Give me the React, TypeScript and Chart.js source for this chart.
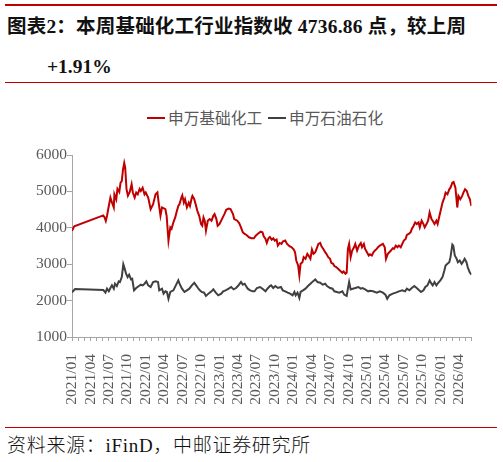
import React, { useEffect, useRef } from "react";
import { Chart, registerables } from "chart.js";

Chart.register(...registerables);

// x = months since 2021/01
const chemMonths = [
  0, 0.37, 5.09, 5.3, 5.5, 5.7, 5.99, 6.25, 6.5, 6.8, 6.9, 7.2, 7.4, 7.7, 7.9, 8.1, 8.3, 8.5, 8.66, 8.87,
  9.1, 9.4, 9.7, 9.9, 10.2, 10.45, 10.7, 11.0, 11.2, 11.5, 11.8, 12.0, 12.4, 12.8, 13.2, 13.6, 13.9, 14.1,
  14.4, 14.65, 15.2, 15.4, 15.7, 16.0, 16.2, 16.5, 16.8, 17.0, 17.3, 17.5, 17.8, 17.95, 18.2, 18.4, 18.7,
  19.0, 19.2, 19.5, 19.6, 19.9, 20.2, 20.4, 20.7, 21.0, 21.2, 21.4, 21.6, 21.8, 22.1, 22.4, 22.7, 23.0,
  23.2, 23.5, 23.7, 24.0, 24.4, 24.8, 25.1, 25.5, 25.8, 26.2, 26.4, 26.9, 27.2, 27.5, 27.8, 28.1, 28.4,
  28.8, 29.2, 29.6, 29.9, 30.2, 30.7, 31.0, 31.2, 31.5, 31.7, 32.0, 32.2, 32.5, 32.75, 33.0, 33.3, 33.5,
  33.8, 34.1, 34.3, 34.7, 35.0, 35.4, 35.75, 36.1, 36.3, 36.5, 36.8, 37.0, 37.2, 37.5, 37.7, 38.0, 38.3,
  38.5, 38.8, 39.05, 39.3, 39.6, 39.8, 40.1, 40.4, 40.6, 40.9, 41.2, 41.4, 41.7, 42.0, 42.2, 42.5, 42.7,
  43.0, 43.3, 43.6, 44.0, 44.2, 44.5, 44.7, 44.9, 45.1, 45.35, 45.6, 45.9, 46.1, 46.4, 46.7, 47.0, 47.2,
  47.5, 47.7, 48.0, 48.3, 48.5, 48.8, 49.05, 49.3, 49.6, 49.8, 50.1, 50.3, 50.6, 50.9, 51.1, 51.4, 51.65,
  51.9, 52.2, 52.4, 52.7, 52.96, 53.2, 53.5, 53.75, 54.0, 54.3, 54.5, 54.8, 55.1, 55.3, 55.6, 55.85, 56.1,
  56.4, 56.6, 56.9, 57.2, 57.4, 57.7, 57.95, 58.2, 58.5, 58.7, 59.0, 59.3, 59.5, 59.8, 60.05, 60.3, 60.6,
  60.8, 61.1, 61.4, 61.6, 61.9, 62.1, 62.4, 62.7, 62.9, 63.2, 63.5, 63.7, 63.97, 64.25, 64.5, 64.76, 65.0,
];
const chemValues = [
  3920, 4040, 4340, 4285, 4190, 4330, 4600, 4830, 4700, 4560, 4920, 4780, 5070, 4985, 5240, 5280, 5600, 5780, 5650, 5060,
  4880, 4985, 5195, 4970, 4830, 4970, 4920, 5070, 5010, 5100, 4920, 4970, 4830, 4510, 4650, 4920, 4970, 4700,
  4330, 4560, 4510, 4330, 3650, 4010, 3970, 4150, 4285, 4420, 4600, 4650, 4830, 4890, 4690, 4785, 4560,
  4690, 4600, 4830, 4876, 4785, 4600, 4466, 4330, 4103, 4057, 4285, 4194, 3920, 4194, 4239, 4194, 4330,
  4376, 4239, 4057, 4103, 4239, 4376, 4494, 4530, 4512, 4376, 4239, 4194, 4130, 4011, 3875, 3830, 3803,
  3739, 3712, 3712, 3784, 3830, 3894, 3875, 3766, 3693, 3584, 3720, 3750, 3675, 3712, 3648, 3675, 3511,
  3584, 3557, 3620, 3648, 3557, 3493, 3466, 3402, 3329, 3102, 2966, 2693, 3011, 3056, 3193, 3147, 3284,
  3238, 3147, 3402, 3284, 3329, 3420, 3557, 3584, 3493, 3420, 3329, 3284, 3193, 3147, 3038, 3011, 2947,
  2920, 2875, 2829, 2766, 2802, 2738, 2766, 3420, 3557, 3193, 3375, 3466, 3557, 3375, 3511, 3584, 3466,
  3557, 3420, 3329, 3238, 3270, 3238, 3329, 3375, 3420, 3466, 3511, 3530, 3557, 3466, 3147, 3284, 3329,
  3375, 3439, 3420, 3511, 3466, 3511, 3466, 3557, 3648, 3693, 3803, 3830, 3875, 3966, 4057, 4148, 4103,
  4148, 4011, 4194, 4103, 4011, 4103, 4194, 4421, 4239, 4194, 4103, 4194, 4103, 4330, 4512, 4694, 4830,
  4967, 4921, 5058, 5103, 5240, 5258, 5103, 4557, 4876, 4785, 4876, 4967, 5058, 5012, 4876, 4785, 4600,
];

const oilMonths = [
  0, 0.5, 5.1, 5.45, 5.7, 6.0, 6.25, 6.5, 6.8, 7.0, 7.3, 7.6, 7.8, 8.1, 8.35, 8.5, 8.8, 9.05, 9.3, 9.6,
  9.8, 10.1, 10.45, 10.9, 11.2, 11.5, 11.8, 12.1, 12.4, 12.8, 13.2, 13.6, 14.0, 14.2, 14.65, 14.9, 15.2,
  15.45, 15.7, 16.0, 16.5, 16.9, 17.3, 17.5, 17.9, 18.3, 18.7, 19.1, 19.5, 19.9, 20.2, 20.5, 20.8, 21.1,
  21.5, 21.8, 22.2, 22.7, 23.0, 23.4, 23.8, 24.3, 24.6, 25.0, 25.5, 25.9, 26.3, 26.7, 27.0, 27.5, 27.8,
  28.1, 28.6, 29.0, 29.4, 29.7, 30.1, 30.6, 31.0, 31.5, 31.8, 32.2, 32.4, 32.75, 33.1, 33.5, 34.0, 34.3,
  34.7, 35.1, 35.5, 35.9, 36.2, 36.4, 36.7, 37.0, 37.2, 37.6, 38.0, 38.4, 38.8, 39.2, 39.6, 39.95, 40.4,
  40.8, 41.2, 41.5, 42.0, 42.4, 42.7, 43.1, 43.5, 44.0, 44.3, 44.7, 44.9, 45.1, 45.35, 45.7, 46.1, 46.6,
  47.0, 47.3, 47.7, 48.2, 48.5, 49.0, 49.6, 50.1, 50.6, 51.0, 51.3, 51.65, 52.2, 52.7, 53.2, 53.75, 54.2,
  54.5, 54.9, 55.3, 55.7, 56.1, 56.5, 56.8, 57.2, 57.5, 57.85, 58.2, 58.5, 58.7, 59.0, 59.3, 59.5, 59.95,
  60.3, 60.6, 60.8, 61.1, 61.4, 61.6, 61.9, 62.05, 62.3, 62.6, 62.8, 63.1, 63.4, 63.6, 63.9, 64.2, 64.4,
  64.7, 65.0,
];
const oilValues = [
  2230, 2320, 2290, 2218, 2327, 2255, 2346, 2418, 2327, 2464, 2400, 2528, 2510, 2646, 3000, 2919, 2737, 2646, 2710, 2582,
  2600, 2282, 2346, 2400, 2437, 2418, 2464, 2528, 2418, 2373, 2510, 2528, 2510, 2282, 2327, 2191, 2255,
  2237, 2050, 2237, 2282, 2418, 2555, 2464, 2327, 2237, 2282, 2327, 2418, 2491, 2418, 2346, 2282, 2237,
  2218, 2127, 2191, 2255, 2309, 2218, 2145, 2191, 2255, 2282, 2327, 2373, 2309, 2346, 2400, 2510, 2437,
  2464, 2327, 2282, 2255, 2255, 2346, 2373, 2327, 2255, 2327, 2400, 2418, 2346, 2400, 2346, 2373, 2282,
  2255, 2218, 2191, 2145, 2237, 2145, 2218, 2073, 2237, 2282, 2327, 2400, 2464, 2528, 2582, 2510, 2491,
  2437, 2464, 2400, 2346, 2327, 2255, 2237, 2218, 2255, 2164, 2127, 2327, 2510, 2309, 2327, 2346, 2373,
  2327, 2346, 2309, 2255, 2270, 2255, 2218, 2255, 2218, 2164, 2050, 2145, 2191, 2218, 2255, 2282, 2255,
  2327, 2282, 2346, 2400, 2346, 2282, 2237, 2282, 2373, 2418, 2555, 2464, 2418, 2510, 2418, 2464, 2555,
  2646, 2828, 2966, 3011, 3056, 3193, 3540, 3511, 3238, 3147, 3056, 3102, 3011, 3056, 3147, 3056, 2920,
  2784, 2710,
];

const seriesNames = ["申万基础化工", "申万石油石化"];
const seriesColors = ["#c00000", "#404040"];
const xTickLabels = [
  "2021/01", "2021/04", "2021/07", "2021/10", "2022/01", "2022/04", "2022/07", "2022/10",
  "2023/01", "2023/04", "2023/07", "2023/10", "2024/01", "2024/04", "2024/07", "2024/10",
  "2025/01", "2025/04", "2025/07", "2025/10", "2026/01", "2026/04",
];
const yTickValues = [1000, 2000, 3000, 4000, 5000, 6000];

const titleLine1 = "图表2：本周基础化工行业指数收 4736.86 点，较上周";
const titleLine2 = "+1.91%";
const sourceText = "资料来源：iFinD，中邮证券研究所";

const SERIF = "'Liberation Serif', 'Noto Sans CJK SC', serif";
const CJK = "'Noto Sans CJK SC', sans-serif";
const AXIS_COLOR = "#a6a6a6";
const TEXT_GRAY = "#595959";

function ChartCanvas() {
  const ref = useRef<HTMLCanvasElement | null>(null);
  useEffect(() => {
    if (!ref.current) return;
    const chart = new Chart(ref.current, {
      type: "line",
      data: {
        datasets: [
          {
            label: seriesNames[0],
            data: chemMonths.map((m, i) => ({ x: m, y: chemValues[i] })),
            borderColor: seriesColors[0],
            borderWidth: 2,
            pointRadius: 0,
            tension: 0,
          },
          {
            label: seriesNames[1],
            data: oilMonths.map((m, i) => ({ x: m, y: oilValues[i] })),
            borderColor: seriesColors[1],
            borderWidth: 2,
            pointRadius: 0,
            tension: 0,
          },
        ],
      },
      options: {
        animation: false,
        responsive: false,
        maintainAspectRatio: false,
        layout: { padding: { top: 15, right: 18, left: 0, bottom: 0 } },
        plugins: { legend: { display: false }, tooltip: { enabled: false } },
        scales: {
          x: {
            type: "linear",
            min: 0,
            max: 65,
            afterFit: (s: any) => {
              s.height = 88;
            },
            ticks: {
              stepSize: 1,
              autoSkip: false,
              maxRotation: 90,
              minRotation: 90,
              padding: 13,
              color: TEXT_GRAY,
              font: { family: SERIF, size: 15.5 },
              callback: (v: any) => {
                const n = Math.round(Number(v));
                return n % 3 === 0 && xTickLabels[n / 3] ? xTickLabels[n / 3] : "";
              },
            },
            grid: { drawOnChartArea: false, drawTicks: true, tickLength: 4, color: AXIS_COLOR },
            border: { display: true, color: AXIS_COLOR },
          },
          y: {
            min: yTickValues[0],
            max: yTickValues[yTickValues.length - 1],
            afterFit: (s: any) => {
              s.width = 72;
            },
            ticks: {
              stepSize: 1000,
              padding: 0,
              color: TEXT_GRAY,
              font: { family: SERIF, size: 15.5 },
              callback: (v: any) => String(v),
            },
            grid: { drawOnChartArea: false, drawTicks: true, tickLength: 5, color: AXIS_COLOR },
            border: { display: true, color: AXIS_COLOR },
          },
        },
      },
    });
    return () => chart.destroy();
  }, []);
  return (
    <canvas
      ref={ref}
      width={503}
      height={285}
      style={{ position: "absolute", left: 0, top: 140, width: 503, height: 285 }}
    />
  );
}

export default function App() {
  return (
    <div style={{ position: "absolute", left: 0, top: 0, width: 503, height: 462, background: "#fff", overflow: "hidden" }}>
      <div style={{ position: "absolute", left: 5, top: 4, width: 492, height: 2, background: "#c00000" }} />
      <div
        style={{
          position: "absolute", left: 7, top: 15, height: 24, lineHeight: "24px", whiteSpace: "nowrap",
          fontFamily: SERIF, fontWeight: "bold", fontSize: 19.5, color: "#111", letterSpacing: 0.2,
        }}
      >
        {titleLine1}
      </div>
      <div
        style={{
          position: "absolute", left: 47, top: 55, height: 24, lineHeight: "24px", whiteSpace: "nowrap",
          fontFamily: SERIF, fontWeight: "bold", fontSize: 19.5, color: "#111",
        }}
      >
        {titleLine2}
      </div>
      <div style={{ position: "absolute", left: 5, top: 82, width: 492, height: 1, background: "#c00000" }} />

      {/* legend */}
      {seriesNames.map((name, i) => {
        const lineLeft = i === 0 ? 147 : 268;
        return (
          <React.Fragment key={name}>
            <div style={{ position: "absolute", left: lineLeft, top: 117, width: 18, height: 2, background: seriesColors[i] }} />
            <div
              style={{
                position: "absolute", left: lineLeft + 21, top: 108, height: 20, lineHeight: "20px", whiteSpace: "nowrap",
                fontFamily: CJK, fontSize: 15.7, color: TEXT_GRAY,
              }}
            >
              {name}
            </div>
          </React.Fragment>
        );
      })}

      <ChartCanvas />

      <div style={{ position: "absolute", left: 5, top: 427, width: 492, height: 1, background: "#c00000" }} />
      <div
        style={{
          position: "absolute", left: 7, top: 434, height: 24, lineHeight: "24px", whiteSpace: "nowrap",
          fontFamily: SERIF, fontSize: 19, fontWeight: 300, color: "#111", letterSpacing: 0.7,
        }}
      >
        {sourceText}
      </div>
    </div>
  );
}
